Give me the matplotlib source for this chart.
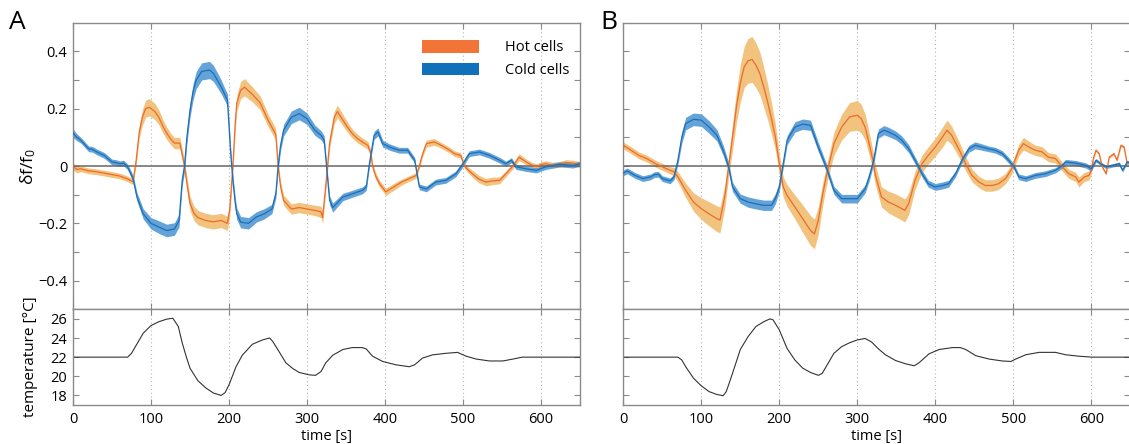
import numpy as np
import matplotlib
matplotlib.use("Agg")
import matplotlib.pyplot as plt
from matplotlib.patches import Patch

plt.rcParams['font.family'] = ['Open Sans', 'DejaVu Sans']
plt.rcParams['mathtext.default'] = 'regular'

# ---------------- data ----------------
a_hot_t = [0, 5, 10, 20, 30, 40, 50, 60, 70, 77,
           81, 85, 89, 93, 98, 105, 110, 115, 120, 125,
           130, 137, 140, 143, 146, 150, 155, 160, 170, 180,
           190, 198, 201, 205, 208, 210, 215, 220, 225, 230,
           240, 250, 260, 263, 266, 270, 280, 290, 300, 310,
           318, 320, 324, 329, 335, 339, 346, 352, 358, 365,
           371, 378, 382, 384, 388, 393, 401, 407, 414, 422,
           431, 440, 444, 448, 453, 463, 470, 476, 483, 489,
           497, 502, 507, 512, 520, 529, 538, 547, 555, 564,
           572, 581, 587, 594, 600, 606, 615, 624, 632, 641, 650]
a_hot_mean = [-0.002, -0.012, -0.010, -0.017, -0.020, -0.025, -0.030, -0.035, -0.045, -0.055,
              0.020, 0.120, 0.170, 0.200, 0.205, 0.190, 0.170, 0.140, 0.115, 0.095,
              0.080, 0.080, 0.040, 0.000, -0.060, -0.130, -0.165, -0.180, -0.190, -0.195,
              -0.190, -0.200, -0.150, 0.000, 0.150, 0.220, 0.265, 0.275, 0.262, 0.250,
              0.220, 0.160, 0.110, 0.000, -0.070, -0.120, -0.150, -0.145, -0.150, -0.155,
              -0.160, -0.180, -0.070, 0.080, 0.170, 0.190, 0.160, 0.135, 0.113, 0.095,
              0.084, 0.072, 0.043, 0.000, -0.035, -0.062, -0.090, -0.080, -0.068, -0.055,
              -0.044, -0.033, 0.000, 0.040, 0.078, 0.084, 0.075, 0.066, 0.055, 0.043,
              0.037, 0.000, -0.015, -0.027, -0.045, -0.056, -0.052, -0.050, -0.027, 0.000,
              0.031, 0.014, 0.005, -0.003, 0.005, 0.008, 0.003, 0.006, 0.012, 0.010, 0.006]
a_hot_sem = [0.012, 0.012, 0.010, 0.010, 0.010, 0.010, 0.010, 0.010, 0.010, 0.010,
             0.015, 0.022, 0.028, 0.030, 0.030, 0.028, 0.026, 0.024, 0.022, 0.020,
             0.020, 0.020, 0.020, 0.020, 0.022, 0.025, 0.025, 0.025, 0.025, 0.025,
             0.025, 0.025, 0.025, 0.020, 0.025, 0.028, 0.030, 0.030, 0.028, 0.026,
             0.024, 0.022, 0.020, 0.018, 0.018, 0.018, 0.018, 0.018, 0.018, 0.018,
             0.020, 0.022, 0.020, 0.020, 0.022, 0.022, 0.020, 0.018, 0.016, 0.015,
             0.014, 0.014, 0.013, 0.012, 0.012, 0.012, 0.013, 0.012, 0.012, 0.010,
             0.010, 0.010, 0.010, 0.010, 0.012, 0.012, 0.010, 0.010, 0.010, 0.010,
             0.010, 0.010, 0.010, 0.012, 0.013, 0.013, 0.013, 0.012, 0.010, 0.010,
             0.012, 0.010, 0.010, 0.010, 0.010, 0.010, 0.010, 0.010, 0.010, 0.010, 0.010]

a_cold_t = [0, 5, 10, 15, 20, 25, 30, 40, 50, 55,
            60, 65, 70, 77, 82, 90, 100, 110, 120, 130,
            136, 140, 143, 146, 150, 154, 158, 165, 175, 180,
            185, 190, 195, 198, 202, 205, 208, 210, 215, 225,
            235, 245, 255, 260, 263, 266, 270, 280, 290, 300,
            310, 318, 322, 325, 329, 333, 340, 346, 358, 371,
            376, 380, 386, 391, 397, 406, 418, 429, 438, 444,
            453, 465, 478, 491, 500, 508, 521, 534, 547, 555,
            562, 568, 581, 594, 606, 624, 641, 650]
a_cold_mean = [0.115, 0.100, 0.090, 0.075, 0.060, 0.058, 0.050, 0.037, 0.014, 0.012,
               0.008, 0.010, -0.003, -0.044, -0.108, -0.167, -0.200, -0.213, -0.225, -0.220,
               -0.190, -0.050, 0.000, 0.100, 0.195, 0.260, 0.300, 0.330, 0.335, 0.323,
               0.300, 0.276, 0.247, 0.230, 0.050, -0.050, -0.130, -0.167, -0.196, -0.200,
               -0.178, -0.167, -0.150, -0.097, 0.000, 0.070, 0.125, 0.170, 0.183, 0.165,
               0.125, 0.107, 0.090, 0.000, -0.120, -0.145, -0.125, -0.108, -0.097, -0.085,
               -0.073, 0.008, 0.107, 0.119, 0.078, 0.066, 0.055, 0.055, 0.020, -0.073,
               -0.080, -0.056, -0.050, -0.027, 0.008, 0.043, 0.049, 0.037, 0.020, 0.008,
               0.020, -0.003, -0.010, -0.015, -0.003, 0.006, 0.002, 0.008]
a_cold_sem = [0.015, 0.012, 0.010, 0.010, 0.010, 0.010, 0.010, 0.010, 0.010, 0.010,
              0.010, 0.010, 0.010, 0.012, 0.015, 0.018, 0.020, 0.022, 0.022, 0.022,
              0.022, 0.020, 0.020, 0.022, 0.025, 0.028, 0.030, 0.030, 0.030, 0.028,
              0.026, 0.024, 0.022, 0.022, 0.020, 0.020, 0.020, 0.020, 0.020, 0.020,
              0.018, 0.018, 0.016, 0.016, 0.016, 0.018, 0.020, 0.022, 0.022, 0.020,
              0.018, 0.016, 0.016, 0.016, 0.016, 0.016, 0.014, 0.013, 0.012, 0.012,
              0.012, 0.012, 0.014, 0.014, 0.012, 0.011, 0.010, 0.010, 0.010, 0.010,
              0.010, 0.010, 0.010, 0.010, 0.010, 0.010, 0.010, 0.010, 0.010, 0.009,
              0.009, 0.009, 0.009, 0.009, 0.009, 0.009, 0.009, 0.009]

b_hot_t = [0, 10, 20, 30, 40, 50, 60, 65, 70, 80,
           90, 100, 110, 120, 124, 130, 135, 140, 145, 150,
           155, 160, 165, 170, 175, 180, 185, 190, 195, 200,
           205, 210, 220, 230, 240, 245, 250, 255, 260, 265,
           270, 280, 290, 300, 305, 310, 315, 320, 323, 331,
           340, 349, 357, 361, 366, 374, 383, 391, 400, 409,
           415, 421, 430, 439, 447, 456, 464, 473, 481, 490,
           498, 507, 513, 520, 528, 537, 545, 554, 563, 571,
           580, 584, 591, 597, 600, 603, 606, 610, 614, 619,
           623, 629, 633, 638, 642, 646, 650]
b_hot_mean = [0.072, 0.055, 0.037, 0.026, 0.010, -0.003, -0.015, -0.020, -0.038, -0.085,
              -0.126, -0.149, -0.167, -0.184, -0.188, -0.108, -0.003, 0.100, 0.206, 0.288,
              0.346, 0.367, 0.372, 0.352, 0.323, 0.276, 0.224, 0.165, 0.100, 0.008,
              -0.073, -0.103, -0.143, -0.184, -0.225, -0.237, -0.190, -0.108, -0.038, 0.020,
              0.078, 0.136, 0.171, 0.177, 0.165, 0.136, 0.080, 0.020, -0.030, -0.108,
              -0.126, -0.137, -0.149, -0.155, -0.130, -0.050, 0.008, 0.037, 0.066, 0.100,
              0.125, 0.107, 0.060, 0.008, -0.033, -0.056, -0.068, -0.068, -0.062, -0.044,
              -0.010, 0.055, 0.078, 0.066, 0.055, 0.049, 0.031, 0.026, -0.003, -0.027,
              -0.038, -0.056, -0.038, -0.033, -0.015, 0.030, 0.055, 0.043, -0.003, -0.027,
              0.031, 0.043, 0.020, 0.072, 0.066, 0.008, 0.020]
b_hot_sem = [0.012, 0.012, 0.012, 0.012, 0.012, 0.012, 0.013, 0.015, 0.018, 0.025,
             0.032, 0.038, 0.042, 0.045, 0.045, 0.040, 0.035, 0.045, 0.055, 0.065,
             0.072, 0.078, 0.080, 0.078, 0.075, 0.070, 0.062, 0.055, 0.045, 0.035,
             0.035, 0.038, 0.042, 0.048, 0.052, 0.052, 0.048, 0.040, 0.035, 0.035,
             0.040, 0.045, 0.050, 0.052, 0.050, 0.045, 0.040, 0.035, 0.035, 0.035,
             0.038, 0.040, 0.040, 0.040, 0.038, 0.032, 0.030, 0.030, 0.032, 0.035,
             0.035, 0.032, 0.028, 0.025, 0.022, 0.020, 0.020, 0.020, 0.020, 0.018,
             0.018, 0.020, 0.022, 0.020, 0.018, 0.018, 0.016, 0.016, 0.016, 0.016,
             0.016, 0.018, 0.016, 0.016, 0.012, 0.006, 0.005, 0.005, 0.005, 0.005,
             0.005, 0.005, 0.005, 0.005, 0.005, 0.005, 0.005]

b_cold_t = [0, 5, 15, 25, 35, 40, 45, 50, 60, 65,
            70, 75, 80, 90, 100, 110, 120, 128, 135, 140,
            150, 160, 170, 180, 190, 195, 200, 205, 210, 220,
            230, 240, 250, 260, 270, 280, 290, 300, 310, 315,
            321, 327, 334, 340, 349, 357, 366, 374, 383, 391,
            400, 409, 417, 426, 434, 443, 451, 460, 468, 477,
            486, 494, 501, 507, 516, 528, 541, 554, 563, 567,
            580, 593, 600, 606, 612, 619, 627, 636, 640, 646, 650]
b_cold_mean = [-0.024, -0.017, -0.033, -0.044, -0.038, -0.030, -0.029, -0.044, -0.052, -0.038,
               0.020, 0.100, 0.148, 0.163, 0.160, 0.136, 0.107, 0.055, -0.003, -0.073,
               -0.114, -0.126, -0.132, -0.137, -0.137, -0.114, -0.073, 0.008, 0.090, 0.136,
               0.146, 0.142, 0.066, -0.003, -0.085, -0.114, -0.114, -0.114, -0.080, -0.040,
               0.020, 0.113, 0.125, 0.119, 0.107, 0.090, 0.060, 0.020, -0.027, -0.062,
               -0.073, -0.068, -0.062, -0.027, 0.020, 0.060, 0.072, 0.066, 0.060, 0.055,
               0.043, 0.020, -0.003, -0.038, -0.044, -0.033, -0.027, -0.015, 0.002, 0.014,
               0.010, 0.002, -0.010, 0.020, 0.008, -0.003, 0.002, 0.008, -0.015, 0.014, 0.010]
b_cold_sem = [0.010, 0.010, 0.010, 0.010, 0.010, 0.010, 0.010, 0.010, 0.010, 0.010,
              0.015, 0.020, 0.022, 0.022, 0.022, 0.022, 0.020, 0.018, 0.016, 0.016,
              0.016, 0.018, 0.018, 0.018, 0.018, 0.018, 0.016, 0.015, 0.016, 0.018,
              0.018, 0.018, 0.016, 0.014, 0.014, 0.015, 0.015, 0.015, 0.014, 0.014,
              0.014, 0.016, 0.016, 0.016, 0.015, 0.015, 0.014, 0.012, 0.012, 0.012,
              0.012, 0.012, 0.012, 0.010, 0.010, 0.012, 0.012, 0.011, 0.010, 0.010,
              0.010, 0.010, 0.010, 0.010, 0.010, 0.010, 0.010, 0.009, 0.009, 0.009,
              0.009, 0.009, 0.009, 0.006, 0.006, 0.006, 0.006, 0.006, 0.006, 0.006, 0.006]

a_temp_t = [0, 70, 75, 80, 90, 100, 110, 120, 128, 135,
            140, 145, 150, 160, 170, 180, 190, 195, 200, 209,
            217, 230, 243, 252, 256, 264, 273, 282, 290, 303,
            311, 318, 324, 333, 346, 358, 371, 376, 384, 397,
            414, 431, 438, 448, 461, 478, 493, 504, 517, 534,
            551, 564, 576, 589, 650]
a_temp = [22.0, 22.0, 22.4, 23.1, 24.5, 25.3, 25.7, 25.97, 26.07, 25.2,
          23.5, 22.1, 20.85, 19.55, 18.8, 18.25, 18.0, 18.3, 19.1, 21.0,
          22.2, 23.35, 23.8, 24.0, 23.65, 22.6, 21.4, 20.8, 20.4, 20.15,
          20.1, 20.5, 21.4, 22.2, 22.8, 23.0, 23.0, 22.85, 22.1, 21.55,
          21.2, 21.0, 21.2, 21.9, 22.24, 22.4, 22.5, 22.1, 21.8, 21.6,
          21.6, 21.8, 22.0, 22.0, 22.0]

b_temp_t = [0, 70, 75, 80, 90, 100, 110, 120, 128, 132,
            140, 150, 160, 170, 180, 188, 192, 200, 210, 220,
            230, 240, 250, 255, 260, 270, 280, 290, 300, 310,
            318, 328, 336, 349, 362, 373, 379, 392, 405, 422,
            432, 439, 452, 469, 486, 497, 503, 516, 533, 554,
            567, 584, 601, 650]
b_temp = [22.0, 22.0, 21.7, 21.0, 19.8, 19.0, 18.4, 18.1, 17.97, 18.4,
          20.3, 22.8, 24.15, 25.2, 25.7, 26.0, 25.9, 24.85, 22.9, 21.7,
          20.85, 20.4, 20.1, 20.3, 21.0, 22.4, 23.1, 23.5, 23.8, 23.95,
          23.6, 22.8, 22.25, 21.65, 21.3, 21.1, 21.4, 22.35, 22.8, 23.0,
          23.0, 22.8, 22.15, 21.8, 21.6, 21.55, 21.8, 22.25, 22.5, 22.5,
          22.25, 22.1, 22.0, 22.0]

x_ticks = [0, 100, 200, 300, 400, 500, 600]
x_ticklabels = ['0', '100', '200', '300', '400', '500', '600']
grid_x = [100, 200, 300, 400, 500, 600]
df_ticks = [-0.4, -0.3, -0.2, -0.1, 0.0, 0.1, 0.2, 0.3, 0.4]
df_ticklabels = ['\u22120.4', '', '\u22120.2', '', '0', '', '0.2', '', '0.4']
temp_ticks = [18, 20, 22, 24, 26]
temp_ticklabels = ['18', '20', '22', '24', '26']
series_labels = ['Hot cells', 'Cold cells']
panel_labels = ['A', 'B']

# ---------------- style ----------------
HOT_LINE = '#EF6A2B'
HOT_BAND = '#F1C37E'
COLD_LINE = '#1B6FB8'
COLD_BAND = '#5C9ED6'
HOT_PATCH = '#F27436'
COLD_PATCH = '#1170BA'
SPINE = '#8a8a8a'
FS = 10.5

W, H = 1129, 444
fig = plt.figure(figsize=(W / 100, H / 100), dpi=100)


def fx(px):
    return px / W


def fy(py):
    return 1 - py / H


panels = [
    dict(left=73, hot=(a_hot_t, a_hot_mean, a_hot_sem), cold=(a_cold_t, a_cold_mean, a_cold_sem),
         temp=(a_temp_t, a_temp), label_x=9),
    dict(left=623.3, hot=(b_hot_t, b_hot_mean, b_hot_sem), cold=(b_cold_t, b_cold_mean, b_cold_sem),
         temp=(b_temp_t, b_temp), label_x=600),
]

top_y0, top_y1 = 22.7, 309.3
bot_y1 = 405.0
width_px = 507.0


def style_axes(ax):
    for s in ax.spines.values():
        s.set_color(SPINE)
        s.set_linewidth(1.0)
    ax.tick_params(direction='in', length=4, width=0.8, color=SPINE,
                   top=True, right=True, labelsize=FS)
    ax.tick_params(axis='x', pad=5)
    ax.tick_params(axis='y', pad=4)


for i, p in enumerate(panels):
    ax = fig.add_axes([fx(p['left']), fy(top_y1), width_px / W, (top_y1 - top_y0) / H])
    axt = fig.add_axes([fx(p['left']), fy(bot_y1), width_px / W, (bot_y1 - top_y1) / H])

    for gx in grid_x:
        ax.axvline(gx, color='#b5b5b5', ls=(0, (1, 2.5)), lw=0.8, zorder=0)
        axt.axvline(gx, color='#b5b5b5', ls=(0, (1, 2.5)), lw=0.8, zorder=0)

    ht, hm, hs = [np.asarray(v, float) for v in p['hot']]
    ct, cm, cs = [np.asarray(v, float) for v in p['cold']]
    ax.fill_between(ht, hm - hs, hm + hs, color=HOT_BAND, lw=0, zorder=1)
    ax.fill_between(ct, cm - cs, cm + cs, color=COLD_BAND, lw=0, zorder=1.5, alpha=0.95)
    ax.axhline(0, color='#666666', lw=1.1, zorder=2)
    ax.plot(ht, hm, color=HOT_LINE, lw=0.9, zorder=3)
    ax.plot(ct, cm, color=COLD_LINE, lw=0.9, zorder=3)

    ax.set_xlim(0, 650)
    ax.set_ylim(-0.5, 0.5)
    ax.set_xticks(x_ticks)
    ax.set_xticklabels([])
    ax.set_yticks(df_ticks)
    style_axes(ax)

    tt, tv = p['temp']
    axt.plot(tt, tv, color='#333333', lw=0.8)
    axt.set_xlim(0, 650)
    axt.set_ylim(17, 27)
    axt.set_xticks(x_ticks)
    axt.set_xticklabels(x_ticklabels)
    axt.set_yticks(temp_ticks)
    style_axes(axt)
    axt.set_xlabel('time [s]', fontsize=FS, labelpad=1.5)

    if i == 0:
        ax.set_yticklabels(df_ticklabels)
        axt.set_yticklabels(temp_ticklabels)
        ax.set_ylabel('\u03b4f/f$_0$', fontsize=12.5)
        axt.set_ylabel('temperature [\u00b0C]', fontsize=11)
        handles = [Patch(facecolor=HOT_PATCH, edgecolor='none'),
                   Patch(facecolor=COLD_PATCH, edgecolor='none')]
        ax.legend(handles, series_labels, loc='upper left',
                  bbox_to_anchor=((421.7 - 73) / width_px, (top_y1 - 40.0) / (top_y1 - top_y0)),
                  frameon=False, fontsize=FS, handlelength=3.9, handleheight=0.95,
                  handletextpad=1.8, labelspacing=0.5, borderpad=0, borderaxespad=0)
    else:
        ax.set_yticklabels([])
        axt.set_yticklabels([])

    fig.text(fx(p['label_x']), fy(29), panel_labels[i], fontsize=19, ha='left', va='baseline')

# ylabel positions (right edge of rotated text at ~38 px)
fig.axes[0].yaxis.set_label_coords(-(73 - 38) / width_px, 0.5)
fig.axes[1].yaxis.set_label_coords(-(73 - 38) / width_px, 0.5)

fig.savefig('out.png', dpi=100)
